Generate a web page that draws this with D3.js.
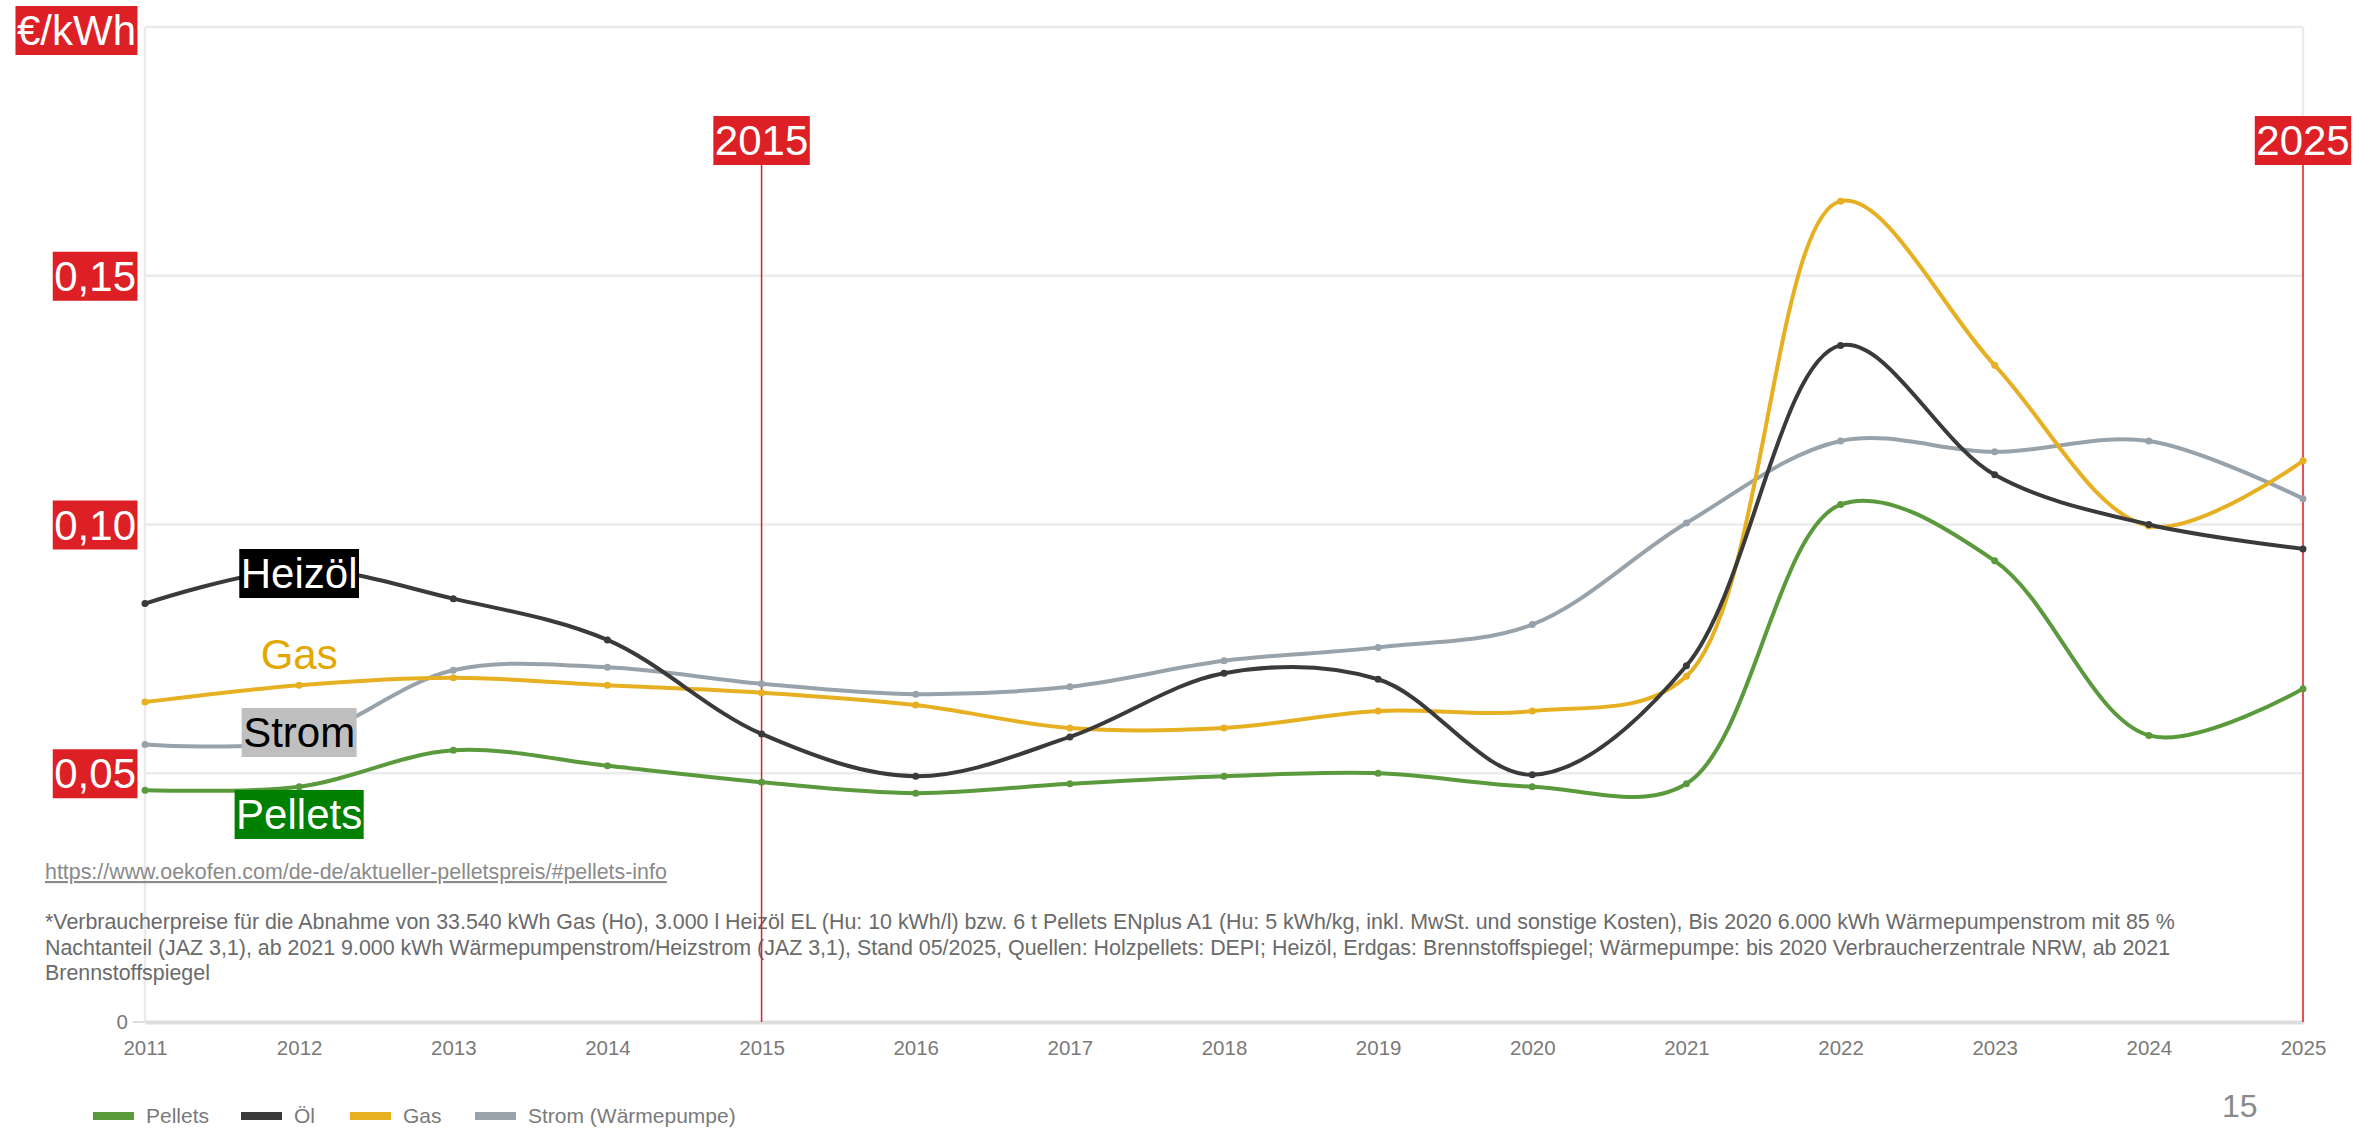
<!DOCTYPE html>
<html>
<head>
<meta charset="utf-8">
<script src="https://cdn.jsdelivr.net/npm/d3@7"></script>
<style>
  body { margin: 0; background: #fff; }
  svg { display: block; font-family: "Liberation Sans", Arial, sans-serif; }
</style>
</head>
<body>
<div id="chart"></div>
<script>
// data (€/kWh)
var years = [2011, 2012, 2013, 2014, 2015, 2016, 2017, 2018, 2019, 2020, 2021, 2022, 2023, 2024, 2025];
var pellets = [0.0466, 0.0473, 0.0546, 0.0515, 0.0482, 0.0460, 0.0479, 0.0494, 0.0500, 0.0473, 0.0479, 0.1040, 0.0927, 0.0576, 0.0670];
var oel     = [0.0841, 0.0910, 0.0851, 0.0768, 0.0579, 0.0494, 0.0573, 0.0701, 0.0689, 0.0497, 0.0716, 0.1360, 0.1100, 0.1000, 0.0951];
var gas     = [0.0643, 0.0677, 0.0692, 0.0677, 0.0662, 0.0637, 0.0591, 0.0591, 0.0625, 0.0625, 0.0695, 0.1650, 0.1320, 0.0997, 0.1128];
var strom   = [0.0558, 0.0567, 0.0707, 0.0713, 0.0680, 0.0659, 0.0674, 0.0726, 0.0753, 0.0799, 0.1003, 0.1168, 0.1146, 0.1168, 0.1052];
var yTicks = [0.05, 0.10, 0.15];
var markYears = [2015, 2025];
var seriesNames = ["Pellets", "Öl", "Gas", "Strom (Wärmepumpe)"];
var seriesColors = ["#5b9a3c", "#3a3a3a", "#e6b022", "#98a2ab"];

var W = 2374, H = 1128;
var red = "#dd2026";

var svg = d3.select("#chart").append("svg")
  .attr("width", W)
  .attr("height", H);

var x = d3.scaleLinear().domain([2011, 2025]).range([145, 2303]);
var y = d3.scaleLinear().domain([0, 0.2]).range([1022, 27]);

// frame + grid
svg.append("g").selectAll("line")
  .data([0.05, 0.10, 0.15, 0.20])
  .enter().append("line")
    .attr("x1", x(2011)).attr("x2", x(2025))
    .attr("y1", function(d) { return y(d) }).attr("y2", function(d) { return y(d) })
    .attr("stroke", "#ebebeb").attr("stroke-width", 2.5);

svg.append("line")
  .attr("x1", x(2011)).attr("x2", x(2011))
  .attr("y1", y(0.2)).attr("y2", y(0))
  .attr("stroke", "#ebebeb").attr("stroke-width", 2.5);
svg.append("line")
  .attr("x1", x(2025)).attr("x2", x(2025))
  .attr("y1", y(0.2)).attr("y2", y(0))
  .attr("stroke", "#ebebeb").attr("stroke-width", 2.5);

// x axis (zero line + year labels)
var xAxis = d3.axisBottom(x)
  .tickValues(years)
  .tickFormat(d3.format("d"))
  .tickSize(0)
  .tickPadding(18);
var gx = svg.append("g")
  .attr("transform", "translate(0," + y(0) + ")")
  .call(xAxis);
gx.select(".domain").attr("stroke", "#dedede").attr("stroke-width", 4);
gx.selectAll("text")
  .attr("fill", "#7a7a7a")
  .style("font-size", "20.5px");

svg.append("text")
  .attr("x", 128).attr("y", y(0))
  .attr("dy", "0.35em")
  .attr("text-anchor", "end")
  .attr("fill", "#7a7a7a")
  .style("font-size", "20.5px")
  .text("0");
svg.append("line")
  .attr("x1", 133).attr("x2", 145)
  .attr("y1", y(0)).attr("y2", y(0))
  .attr("stroke", "#dedede").attr("stroke-width", 2);

// source + footnote
svg.append("text")
  .attr("x", 45).attr("y", 879)
  .attr("fill", "#8a8a8a")
  .attr("text-decoration", "underline")
  .style("font-size", "21.4px")
  .text("https://www.oekofen.com/de-de/aktueller-pelletspreis/#pellets-info");

var foot = [
  "*Verbraucherpreise für die Abnahme von 33.540 kWh Gas (Ho), 3.000 l Heizöl EL (Hu: 10 kWh/l) bzw. 6 t Pellets ENplus A1 (Hu: 5 kWh/kg, inkl. MwSt. und sonstige Kosten), Bis 2020 6.000 kWh Wärmepumpenstrom mit 85 %",
  "Nachtanteil (JAZ 3,1), ab 2021 9.000 kWh Wärmepumpenstrom/Heizstrom (JAZ 3,1), Stand 05/2025, Quellen: Holzpellets: DEPI; Heizöl, Erdgas: Brennstoffspiegel; Wärmepumpe: bis 2020 Verbraucherzentrale NRW, ab 2021",
  "Brennstoffspiegel"
];
svg.append("g").selectAll("text")
  .data(foot)
  .enter().append("text")
    .attr("x", 45)
    .attr("y", function(d, i) { return 929 + i * 25.6 })
    .attr("fill", "#6a6a6a")
    .style("font-size", "21.4px")
    .text(function(d) { return d });

// red marker lines for 2015 / 2025
svg.append("g").selectAll("line")
  .data(markYears)
  .enter().append("line")
    .attr("x1", function(d) { return x(d) }).attr("x2", function(d) { return x(d) })
    .attr("y1", 160).attr("y2", y(0))
    .attr("stroke", red).attr("stroke-width", 1.5);

// series
var allSeries = [pellets, oel, gas, strom];
var line = d3.line()
  .curve(d3.curveCatmullRom.alpha(0.5))
  .x(function(d, i) { return x(years[i]) })
  .y(function(d) { return y(d) });

[3, 2, 1, 0].forEach(function(k) {
  var g = svg.append("g");
  g.append("path")
    .datum(allSeries[k])
    .attr("fill", "none")
    .attr("stroke", seriesColors[k])
    .attr("stroke-width", 4)
    .attr("stroke-linejoin", "round")
    .attr("d", line);
  g.selectAll("circle")
    .data(allSeries[k])
    .enter().append("circle")
      .attr("cx", function(d, i) { return x(years[i]) })
      .attr("cy", function(d) { return y(d) })
      .attr("r", 3.5)
      .attr("fill", seriesColors[k]);
});

// label helper: text on a filled box
function boxLabel(tx, ty, txt, bg, fg, anchor) {
  var g = svg.append("g");
  var r = g.append("rect");
  var t = g.append("text")
    .attr("x", tx).attr("y", ty)
    .attr("dy", "0.36em")
    .attr("text-anchor", anchor || "middle")
    .attr("fill", fg)
    .style("font-size", "42px")
    .text(txt);
  var b = t.node().getBBox();
  if (bg) {
    r.attr("x", b.x - 1.5).attr("y", ty - 24)
      .attr("width", b.width + 3).attr("height", 49)
      .attr("fill", bg);
  } else {
    r.remove();
  }
}

// y axis labels in red boxes
boxLabel(136, 30, "€/kWh", red, "#fff", "end");
yTicks.forEach(function(v) {
  boxLabel(136, y(v), d3.format(".2f")(v).replace(".", ","), red, "#fff", "end");
});
markYears.forEach(function(v) {
  boxLabel(x(v), 140, String(v), red, "#fff");
});

// series name labels
boxLabel(x(2012), 573, "Heizöl", "#000", "#fff");
boxLabel(x(2012), 654, "Gas", null, "#e3a800");
boxLabel(x(2012), 732, "Strom", "#bfbfbf", "#000");
boxLabel(x(2012), 814, "Pellets", "#008000", "#fff");

// legend
var legend = svg.append("g").selectAll("g")
  .data(seriesNames)
  .enter().append("g")
    .attr("transform", function(d, i) { return "translate(" + [93, 241, 350, 475][i] + ",1116)" });
legend.append("rect")
  .attr("x", 0).attr("y", -4)
  .attr("width", 41).attr("height", 8)
  .attr("fill", function(d, i) { return seriesColors[i] });
legend.append("text")
  .attr("x", 53).attr("dy", "0.35em")
  .attr("fill", "#7a7a7a")
  .style("font-size", "21px")
  .text(function(d) { return d });

// page number
svg.append("text")
  .attr("x", 2222).attr("y", 1117)
  .attr("fill", "#8a8a8a")
  .style("font-size", "32px")
  .text("15");
</script>
</body>
</html>
